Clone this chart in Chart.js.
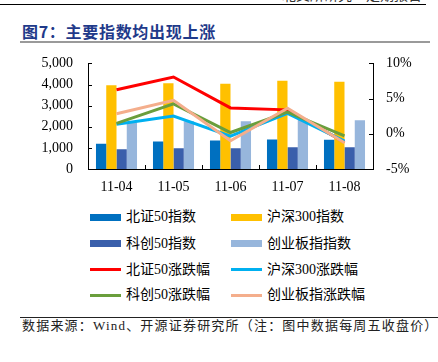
<!DOCTYPE html>
<html>
<head>
<meta charset="utf-8">
<script src="https://cdn.jsdelivr.net/npm/chart.js@4"></script>
<style>
  body { margin: 0; width: 438px; height: 362px; background: #fff; position: relative; overflow: hidden;
         font-family: "Liberation Serif", "Noto Sans CJK SC", serif; }
  .abs { position: absolute; }
  #cabecalho { top: -16px; left: 282px; font-size: 14px; color: #333; white-space: nowrap; font-family: "Noto Sans CJK SC"; }
  #linhaTopo { top: 4px; left: 0; width: 426px; height: 0; border-top: 1.5px solid #000; }
  #titulo { top: 19px; left: 22px; font-size: 16px; font-weight: bold; color: #1f3a8a; letter-spacing: 0.7px;
            font-family: "Noto Sans CJK SC", sans-serif; white-space: nowrap; }
  #linhaTitulo { top: 41px; left: 20px; width: 410px; height: 0; border-top: 2px solid #9a9a9a; }
  #grafico { top: 40px; left: 0; width: 438px; height: 155px; }
  #legenda .item { position: absolute; height: 20px; font-size: 14px; color: #000; white-space: nowrap; }
  #legenda .amostra { position: absolute; left: 0; width: 31px; }
  #legenda .texto { position: absolute; left: 36px; top: 0; line-height: 20px; }
  #linhaFonte { top: 317px; left: 20px; width: 418px; height: 0; border-top: 1px solid #222; }
  #fonte { top: 316px; left: 22px; font-size: 13px; letter-spacing: 1.2px; color: #222; white-space: nowrap; line-height: 20px; }
</style>
</head>
<body>
<div class="abs" id="cabecalho">北交所研究·定期报告</div>
<div class="abs" id="linhaTopo"></div>
<div class="abs" id="titulo">图7：主要指数均出现上涨</div>
<div class="abs" id="linhaTitulo"></div>
<div class="abs" id="grafico"><canvas data-js="grafico-indices"></canvas></div>
<div class="abs" id="legenda" style="left:0;top:0;"></div>
<div class="abs" id="linhaFonte"></div>
<div class="abs" id="fonte">数据来源：Wind、开源证券研究所（注：图中数据每周五收盘价）</div>
<script>
const categorias = ['11-04', '11-05', '11-06', '11-07', '11-08'];

// fechamentos (eixo esquerdo)
const bz50 = [1196, 1308, 1355, 1402, 1383];
const hs300 = [3960, 4055, 4035, 4173, 4126];
const kc50 = [940, 980, 980, 1025, 1025];
const cyb = [2200, 2265, 2255, 2380, 2305];

// variação % (eixo direito)
const bz50Var = [6.25, 8.07, 3.68, 3.4, -1.2];
const hs300Var = [1.35, 2.51, -0.34, 2.89, -1.04];
const kc50Var = [1.49, 4.24, 0.18, 3.07, -0.29];
const cybVar = [2.85, 4.76, -0.99, 3.63, -1.27];

const ticksEsquerda = [0, 1000, 2000, 3000, 4000, 5000];
const ticksDireita = [-5, 0, 5, 10];

const fonteEixo = { family: 'Liberation Serif', size: 14 };

function barra(label, data, cor) {
    return { type: 'bar', label, data, backgroundColor: cor, yAxisID: 'y',
             categoryPercentage: 0.72, barPercentage: 1, order: 10 };
}

function linha(label, data, cor, ordem) {
    return { type: 'line', label, data, borderColor: cor, backgroundColor: cor, yAxisID: 'y1',
             borderWidth: 3, pointRadius: 0, tension: 0, order: ordem };
}

// marcas de escala para dentro
const marcasInternas = {
    id: 'marcasInternas',
    afterDraw(chart) {
        const { ctx, chartArea, scales } = chart;
        ctx.save();
        ctx.strokeStyle = '#000';
        ctx.lineWidth = 1;
        ctx.beginPath();
        ticksEsquerda.forEach(v => {
            const y = Math.round(scales.y.getPixelForValue(v)) + 0.5;
            ctx.moveTo(chartArea.left, y);
            ctx.lineTo(chartArea.left + 4, y);
        });
        ticksDireita.forEach(v => {
            const y = Math.round(scales.y1.getPixelForValue(v)) + 0.5;
            ctx.moveTo(chartArea.right - 4, y);
            ctx.lineTo(chartArea.right, y);
        });
        const passo = scales.x.getPixelForValue(1) - scales.x.getPixelForValue(0);
        for (let i = 0; i <= categorias.length; i++) {
            const x = Math.round(scales.x.getPixelForValue(0) - passo / 2 + i * passo) + 0.5;
            ctx.moveTo(x, chartArea.bottom);
            ctx.lineTo(x, chartArea.bottom - 4);
        }
        ctx.stroke();
        ctx.restore();
    }
};

const canvas = document.querySelector('[data-js="grafico-indices"]');

const grafico = new Chart(canvas, {
    data: {
        labels: categorias,
        datasets: [
            barra('北证50指数', bz50, '#0070c0'),
            barra('沪深300指数', hs300, '#ffc000'),
            barra('科创50指数', kc50, '#3a5fab'),
            barra('创业板指指数', cyb, '#97b6dc'),
            linha('北证50涨跌幅', bz50Var, '#ff0000', 4),
            linha('沪深300涨跌幅', hs300Var, '#00b0f0', 3),
            linha('科创50涨跌幅', kc50Var, '#6a9e3c', 2),
            linha('创业板指涨跌幅', cybVar, '#f4ae8c', 1)
        ]
    },
    options: {
        responsive: true,
        maintainAspectRatio: false,
        animation: false,
        layout: { padding: { top: 2, bottom: 0, left: 0, right: 0 } },
        plugins: { legend: { display: false }, tooltip: { enabled: false } },
        scales: {
            x: {
                grid: { display: false, drawTicks: false },
                border: { display: true, color: '#000', width: 1 },
                ticks: { font: fonteEixo, color: '#000', padding: 10 },
                afterFit(s) { s.height = 26; }
            },
            y: {
                position: 'left',
                min: 0, max: 5000,
                grid: { display: false, drawTicks: false },
                border: { display: true, color: '#000', width: 1 },
                ticks: { stepSize: 1000, autoSkip: false, font: fonteEixo, color: '#000', padding: 15,
                         callback: v => v.toLocaleString('en-US') },
                afterFit(s) { s.width = 88; }
            },
            y1: {
                position: 'right',
                min: -5, max: 10,
                grid: { display: false, drawTicks: false },
                border: { display: true, color: '#000', width: 1 },
                ticks: { stepSize: 5, autoSkip: false, font: fonteEixo, color: '#000', padding: 13,
                         callback: v => v + '%' },
                afterFit(s) { s.width = 65; }
            }
        }
    },
    plugins: [marcasInternas]
});

// legenda em duas colunas montada a partir dos datasets
const legenda = document.getElementById('legenda');
const linhasY = [217, 243.5, 269.5, 295];
const colunasX = [90, 231];
grafico.data.datasets.forEach((ds, i) => {
    const item = document.createElement('div');
    item.className = 'item';
    const linhaIdx = Math.floor(i / 2) % 2 + (ds.type === 'line' ? 2 : 0);
    item.style.left = colunasX[i % 2] + 'px';
    item.style.top = (linhasY[linhaIdx] - 10) + 'px';
    const amostra = document.createElement('div');
    amostra.className = 'amostra';
    const alt = ds.type === 'bar' ? 7 : 3;
    amostra.style.height = alt + 'px';
    amostra.style.top = (10 - alt / 2) + 'px';
    amostra.style.background = ds.type === 'bar' ? ds.backgroundColor : ds.borderColor;
    const texto = document.createElement('div');
    texto.className = 'texto';
    texto.textContent = ds.label;
    item.appendChild(amostra);
    item.appendChild(texto);
    legenda.appendChild(item);
});
</script>
</body>
</html>
